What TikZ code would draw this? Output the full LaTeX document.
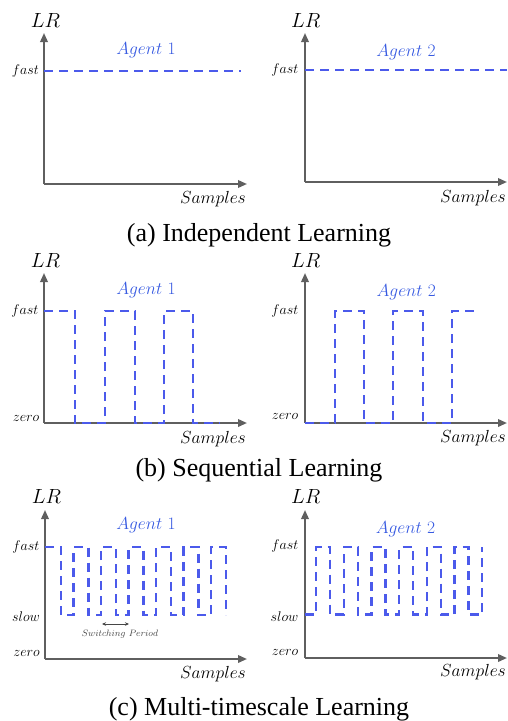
\RequirePackage{fix-cm}
\documentclass[tikz,border=0pt]{standalone}
\usepackage{fontspec}
\newfontfamily\capfont{Liberation Serif}
\usetikzlibrary{arrows.meta}
\definecolor{axisgray}{RGB}{95,95,95}
\definecolor{sigblue}{RGB}{75,90,235}
\definecolor{agentblue}{RGB}{55,90,225}
\definecolor{notegray}{RGB}{70,70,70}
\tikzset{
  axis/.style={draw=axisgray, line width=1.9pt, -{Triangle[length=9pt,width=7.5pt]}},
  sig/.style={draw=sigblue, line width=2.4pt, dash pattern=on 9pt off 6pt},
  lrlab/.style={inner sep=0pt, font=\fontsize{20.5}{24}\selectfont},
  agentlab/.style={inner sep=0pt, text=agentblue, font=\fontsize{17.5}{20}\selectfont},
  lvllab/.style={inner sep=0pt, anchor=east, font=\fontsize{14}{17}\selectfont},
  samplab/.style={inner sep=0pt, font=\fontsize{17.5}{20}\selectfont},
  caplab/.style={inner sep=0pt, anchor=base, font=\capfont\fontsize{26}{30}\selectfont},
  periodarrow/.style={draw=notegray, line width=0.8pt, {Stealth[length=4pt,width=3.5pt]}-{Stealth[length=4pt,width=3.5pt]}},
  notelab/.style={inner sep=0pt, text=notegray, font=\fontsize{9.3}{11}\selectfont}
}
\begin{document}
\begin{tikzpicture}[x=1pt,y=-1pt]
\useasboundingbox (0,0) rectangle (508,721);

% ---------- (a) ----------
\coordinate (a1o) at (44,184); \coordinate (a1y) at (44,33); \coordinate (a1x) at (247,184);
\draw[axis] (a1o) -- (a1y);
\draw[axis] (a1o) -- (a1x);
\coordinate (a1fs) at (44,71); \coordinate (a1fe) at (241,71);
\draw[sig] (a1fs) -- (a1fe);
\node[lrlab] (a1lr) at (45.5,20.5) {$LR$};
\node[agentlab] (a1ag) at (146,50) {$Agent\ 1$};
\node[lvllab] (a1fast) at (39,71) {$fast$};
\node[samplab] (a1samp) at (213,199) {$Samples$};

\coordinate (a2o) at (305,182); \coordinate (a2y) at (305,33); \coordinate (a2x) at (507,182);
\draw[axis] (a2o) -- (a2y);
\draw[axis] (a2o) -- (a2x);
\coordinate (a2fs) at (305,70); \coordinate (a2fe) at (507,70);
\draw[sig] (a2fs) -- (a2fe);
\node[lrlab] (a2lr) at (305.8,20.5) {$LR$};
\node[agentlab] (a2ag) at (406,52) {$Agent\ 2$};
\node[lvllab] (a2fast) at (298.5,70) {$fast$};
\node[samplab] (a2samp) at (473,198) {$Samples$};

\node[caplab] (capa) at (259,241) {(a) Independent Learning};

% ---------- (b) ----------
\coordinate (b1o) at (44,423); \coordinate (b1y) at (44,273); \coordinate (b1x) at (247,423);
\draw[axis] (b1o) -- (b1y);
\draw[axis] (b1o) -- (b1x);
\draw[sig] (44,311) -- (75,311) -- (75,423) -- (105,423) -- (105,311) -- (135,311) -- (135,423)
  -- (164,423) -- (164,311) -- (193,311) -- (193,423) -- (220,423);
\node[lrlab] (b1lr) at (45.5,260.5) {$LR$};
\node[agentlab] (b1ag) at (146,290) {$Agent\ 1$};
\node[lvllab] (b1fast) at (38.5,311) {$fast$};
\node[lvllab] (b1zero) at (39.5,418.3) {$zero$};
\node[samplab] (b1samp) at (213,439.3) {$Samples$};

\coordinate (b2o) at (305,423); \coordinate (b2y) at (305,273); \coordinate (b2x) at (507,423);
\draw[axis] (b2o) -- (b2y);
\draw[axis] (b2o) -- (b2x);
\draw[sig] (305,423) -- (335,423) -- (335,311) -- (364,311) -- (364,423) -- (393,423) -- (393,311)
  -- (423,311) -- (423,423) -- (452,423) -- (452,311) -- (477,311);
\node[lrlab] (b2lr) at (305.8,260) {$LR$};
\node[agentlab] (b2ag) at (406.3,292.7) {$Agent\ 2$};
\node[lvllab] (b2fast) at (298.5,310.5) {$fast$};
\node[lvllab] (b2zero) at (298.5,416.8) {$zero$};
\node[samplab] (b2samp) at (473,438.5) {$Samples$};

\node[caplab] (capb) at (259,476) {(b) Sequential Learning};

% ---------- (c) ----------
\coordinate (c1o) at (45,659); \coordinate (c1y) at (45,510); \coordinate (c1x) at (247,659);
\draw[axis] (c1o) -- (c1y);
\draw[axis] (c1o) -- (c1x);
\draw[sig] (45,547) foreach \k in {0,...,5} {
    -- ({61+27.5*\k},547) -- ({61+27.5*\k},615) -- ({73.5+27.5*\k},615) -- ({73.5+27.5*\k},547) }
  -- (226,547) -- (226,615);
\node[lrlab] (c1lr) at (46.5,496.7) {$LR$};
\node[agentlab] (c1ag) at (146,525) {$Agent\ 1$};
\node[lvllab] (c1fast) at (39.5,547) {$fast$};
\node[lvllab] (c1slow) at (40,617) {$slow$};
\node[lvllab] (c1zero) at (40,653.5) {$zero$};
\node[samplab] (c1samp) at (213,674) {$Samples$};
\coordinate (swl) at (102,624); \coordinate (swr) at (129,624);
\draw[periodarrow] (swl) -- (swr);
\node[notelab] (c1sw) at (120,634.5) {$Switching\ Period$};

\coordinate (c2o) at (305,658); \coordinate (c2y) at (305,510); \coordinate (c2x) at (507,658);
\draw[axis] (c2o) -- (c2y);
\draw[axis] (c2o) -- (c2x);
\draw[sig] (305,614.5) foreach \k in {0,...,5} {
    -- ({316+27.7*\k},614.5) -- ({316+27.7*\k},547) -- ({330+27.7*\k},547) -- ({330+27.7*\k},614.5) }
  -- (482.2,614.5) -- (482.2,547);
\node[lrlab] (c2lr) at (305.8,496.7) {$LR$};
\node[agentlab] (c2ag) at (405.5,529.3) {$Agent\ 2$};
\node[lvllab] (c2fast) at (298.5,546) {$fast$};
\node[lvllab] (c2slow) at (298.5,616.7) {$slow$};
\node[lvllab] (c2zero) at (298.5,652.7) {$zero$};
\node[samplab] (c2samp) at (473,671.7) {$Samples$};

\node[caplab] (capc) at (259,715) {(c) Multi-timescale Learning};
\end{tikzpicture}
\end{document}
